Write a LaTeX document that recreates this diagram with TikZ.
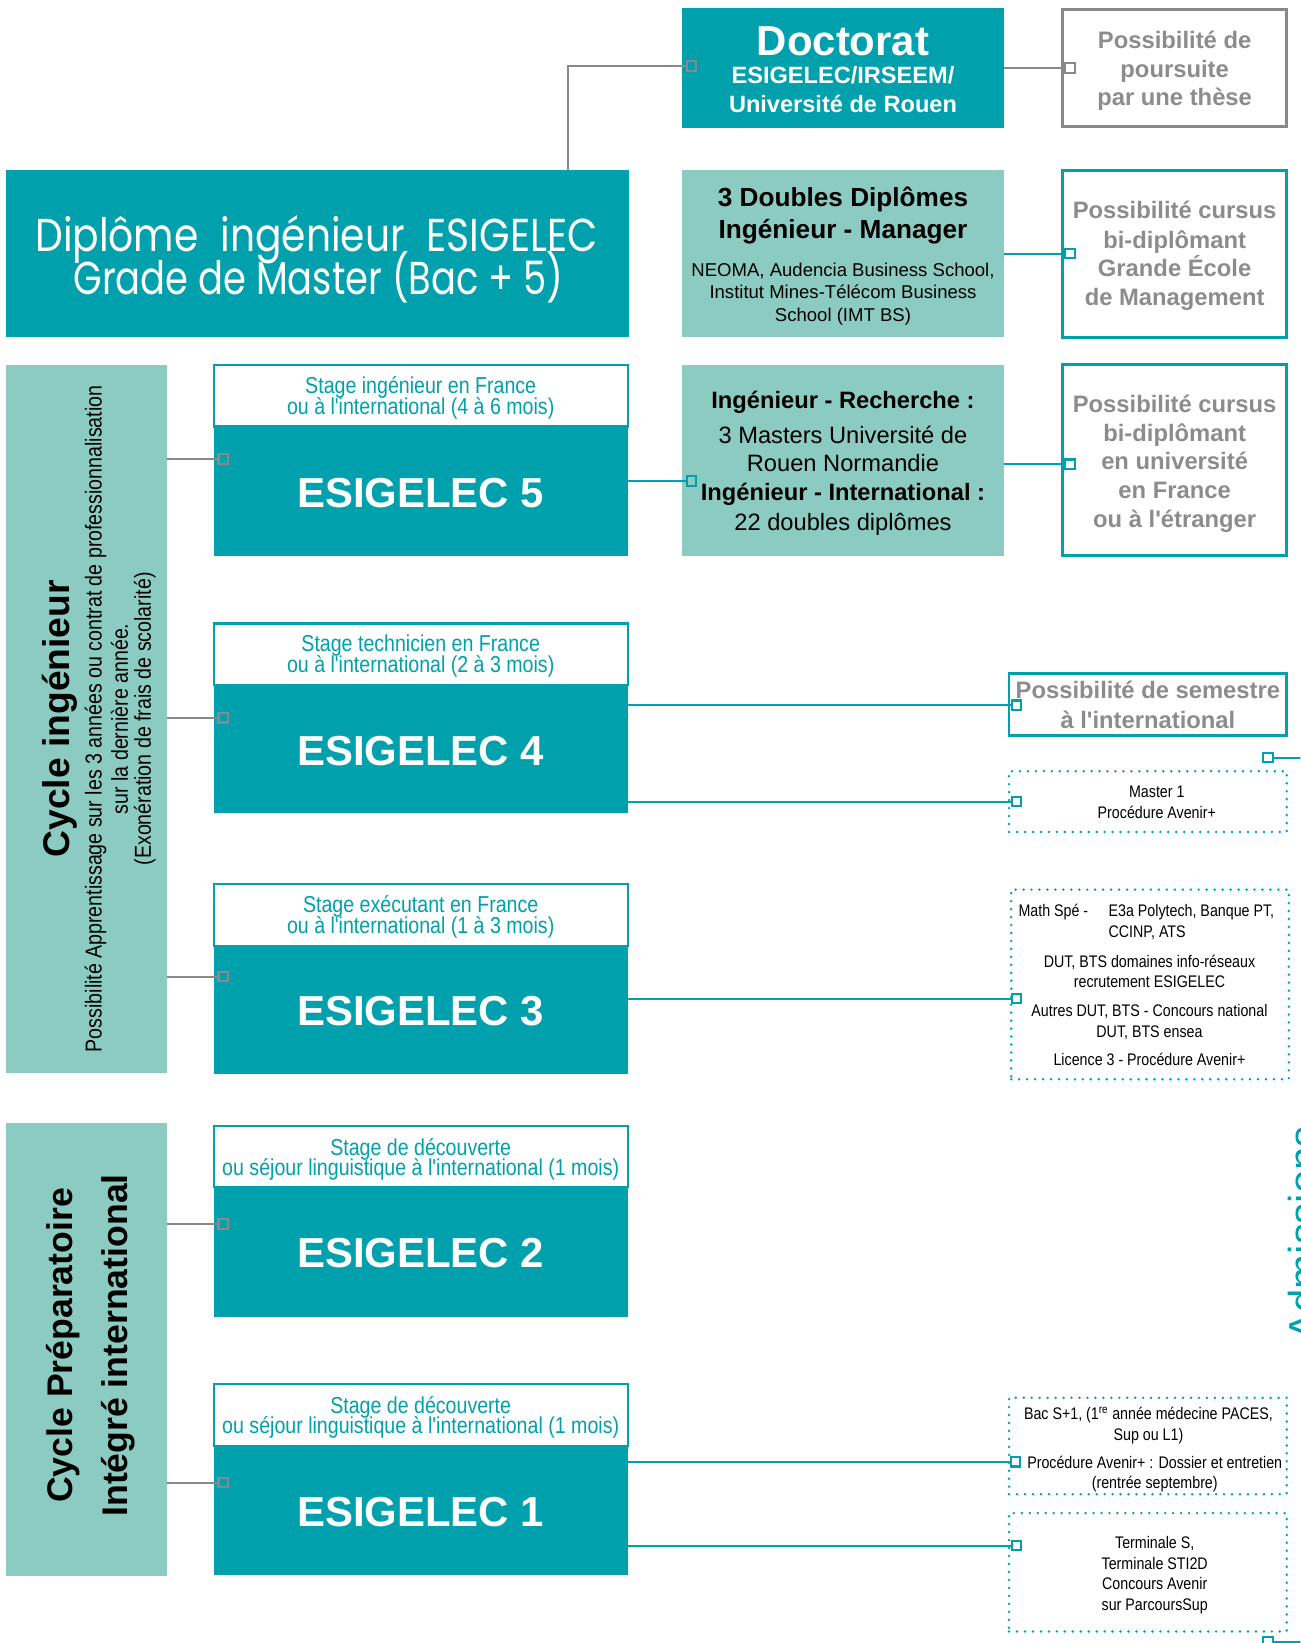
\documentclass[tikz,border=0pt]{standalone}
\usepackage{fontspec}
\setmainfont{Liberation Sans}[Ligatures=TeXOff]
\newfontfamily\nar{Liberation Sans}[FakeStretch=0.85,Ligatures=TeXOff]
\newfontfamily\deco{Poppins}[FakeStretch=0.85]
\newfontfamily\decob{Poppins}[FakeStretch=0.8]
\usetikzlibrary{fit}
\definecolor{teal1}{RGB}{0,161,172}
\definecolor{lteal}{RGB}{140,203,193}
\definecolor{gry}{RGB}{137,137,137}
\definecolor{gtxt}{RGB}{140,140,140}
\newcommand\fs[1]{\fontsize{#1}{#1}\selectfont}
\begin{document}
\begin{tikzpicture}[x=1pt,y=-1pt,
 tbox/.style={fill=teal1, draw=none, inner sep=0pt, outer sep=0pt},
 lbox/.style={fill=lteal, draw=none, inner sep=0pt, outer sep=0pt},
 obox/.style={draw=teal1, line width=2.5pt, fill=white, inner sep=0pt, outer sep=0pt},
 gbox/.style={draw=gry, line width=2.5pt, fill=white, inner sep=0pt, outer sep=0pt},
 sbox/.style={draw=teal1, line width=2pt, fill=white, inner sep=0pt, outer sep=0pt},
 dbox/.style={draw=teal1, line width=2.6pt, dash pattern=on 0pt off 7.6pt, line cap=round, inner sep=0pt, outer sep=0pt},
 sqg/.style={draw=gry, line width=2pt, minimum size=9pt, inner sep=0pt, outer sep=0pt},
 sqt/.style={draw=teal1, line width=2pt, minimum size=9pt, inner sep=0pt, outer sep=0pt},
 gcon/.style={draw=gry, line width=2pt},
 tcon/.style={draw=teal1, line width=2pt},
 txt/.style={anchor=base, inner sep=0pt, outer sep=0pt},
 wt/.style={txt, text=white, font=\bfseries\fs{40}},
 gt/.style={txt, text=gtxt, font=\bfseries\fs{22.7}},
 stt/.style={txt, text=teal1, font=\nar\fs{22}},
 bt/.style={txt, text=black, font=\bfseries\fs{22.6}},
 rt/.style={txt, text=black, font=\fs{22.6}},
 adt/.style={txt, text=black, font=\nar\fs{16}},
]
\useasboundingbox (0,0) rectangle (1241,1568);
\begin{scope}
\clip (0,0) rectangle (1241,1568);
% ---------- boxes ----------
\node[tbox, fit={(6,162)(600,322)}] (dip) {};
\node[tbox, fit={(651,8)(958,122)}] (doc) {};
\node[gbox, fit={(1014,9)(1228,121)}] (pth) {};
\node[lbox, fit={(651,162)(958,322)}] (dd) {};
\node[obox, fit={(1014,163)(1228,322)}] (gem) {};
\node[lbox, fit={(6,348)(159,1024)}] (cyc) {};
\node[sbox, fit={(204,348)(599,407)}] (st5) {};
\node[tbox, fit={(204,407)(599,531)}] (e5) {};
\node[lbox, fit={(651,348)(958,531)}] (ir) {};
\node[obox, fit={(1014,348)(1228,530)}] (univ) {};
\node[sbox, fit={(204,595)(599,654)}] (st4) {};
\node[tbox, fit={(204,654)(599,776)}] (e4) {};
\node[obox, fit={(963,643)(1228,702)}] (sem) {};
\node[dbox, fit={(963,736)(1228,794)}] (mone) {};
\node[sbox, fit={(204,844)(599,903)}] (st3) {};
\node[tbox, fit={(204,903)(599,1025)}] (e3) {};
\node[dbox, fit={(965,849)(1230,1030)}] (adtrois) {};
\node[lbox, fit={(6,1072)(159,1504)}] (prep) {};
\node[sbox, fit={(204,1075)(599,1133)}] (st2) {};
\node[tbox, fit={(204,1133)(599,1257)}] (e2) {};
\node[sbox, fit={(204,1321)(599,1380)}] (st1) {};
\node[tbox, fit={(204,1380)(599,1503)}] (e1) {};
\node[dbox, fit={(963,1334)(1228,1426)}] (adbac) {};
\node[dbox, fit={(963,1444)(1228,1557)}] (adterm) {};
% ---------- connector squares ----------
\node[sqg] (sqdoc) at (660,63) {};
\node[sqg] (sqpth) at (1021,65) {};
\node[sqt] (sqgem) at (1021,242) {};
\node[sqg] (sqe5) at (213,438) {};
\node[sqt] (sqir) at (660,459) {};
\node[sqt] (squniv) at (1021,443) {};
\node[sqg] (sqe4) at (213,685) {};
\node[sqt] (sqsem) at (970,673) {};
\node[sqt] (sqmone) at (970,765) {};
\node[sqt] (sqadmt) at (1210,723) {};
\node[sqg] (sqe3) at (213,932) {};
\node[sqt] (sqadtrois) at (970,953) {};
\node[sqg] (sqe2) at (213,1168) {};
\node[sqg] (sqe1) at (213,1415) {};
\node[sqt] (sqadbac) at (969,1395) {};
\node[sqt] (sqadterm) at (970,1475) {};
\node[sqt] (sqadmb) at (1210,1567) {};
\coordinate (admt) at (1250,723);
\coordinate (admb) at (1250,1567);
% ---------- connectors ----------
\draw[gcon] ([xshift=239pt]dip.north) |- (sqdoc.west);
\draw[gcon] (doc.east |- sqpth) -- (sqpth.west);
\draw[tcon] (dd.east |- sqgem) -- (sqgem.west);
\draw[gcon] (cyc.east |- sqe5) -- (sqe5.west);
\draw[tcon] (e5.east |- sqir) -- (sqir.west);
\draw[tcon] (ir.east |- squniv) -- (squniv.west);
\draw[gcon] (cyc.east |- sqe4) -- (sqe4.west);
\draw[tcon] (e4.east |- sqsem) -- (sqsem.west);
\draw[tcon] (e4.east |- sqmone) -- (sqmone.west);
\draw[tcon] (sqadmt.east) -- (admt);
\draw[gcon] (cyc.east |- sqe3) -- (sqe3.west);
\draw[tcon] (e3.east |- sqadtrois) -- (sqadtrois.west);
\draw[gcon] (prep.east |- sqe2) -- (sqe2.west);
\draw[gcon] (prep.east |- sqe1) -- (sqe1.west);
\draw[tcon] (e1.east |- sqadbac) -- (sqadbac.west);
\draw[tcon] (e1.east |- sqadterm) -- (sqadterm.west);
\draw[tcon] (sqadmb.east) -- (admb);
% ---------- texts ----------
\node[txt, text=white, font=\deco\fs{44}] (dipa) at (302,240) {Diplôme\hspace{21pt}ingénieur\hspace{21pt}ESIGELEC};
\node[txt, text=white, font=\decob\fs{44}] (dipb) at (304,281) {Grade de Master (Bac + 5)};
\node[wt] (doca) at (804.5,53) {Doctorat};
\node[wt, font=\bfseries\fs{22.5}] (docb) at (804.5,80) {ESIGELEC/IRSEEM/};
\node[wt, font=\bfseries\fs{22.5}] (docc) at (804.5,107) {Université de Rouen};
\node[gt] (ptha) at (1121,46) {Possibilité de};
\node[gt] (pthb) at (1121,74) {poursuite};
\node[gt] (pthc) at (1121,101) {par une thèse};
\node[bt, font=\bfseries\fs{25}] (dda) at (804.5,197) {3 Doubles Diplômes};
\node[bt, font=\bfseries\fs{25}] (ddb) at (804.5,228) {Ingénieur - Manager};
\node[rt, font=\fs{17.7}] (ddc) at (804.5,264) {NEOMA, Audencia Business School,};
\node[rt, font=\fs{17.7}] (ddd) at (804.5,285) {Institut Mines-Télécom Business};
\node[rt, font=\fs{17.7}] (dde) at (804.5,307) {School (IMT BS)};
\node[gt] (gema) at (1121,209) {Possibilité cursus};
\node[gt] (gemb) at (1121,237) {bi-diplômant};
\node[gt] (gemc) at (1121,264) {Grande École};
\node[gt] (gemd) at (1121,292) {de Management};
\node[bt] (ira) at (804.5,390) {Ingénieur - Recherche :};
\node[rt] (irb) at (804.5,423) {3 Masters Université de};
\node[rt] (irc) at (804.5,450) {Rouen Normandie};
\node[bt] (ird) at (804.5,478) {Ingénieur - International :};
\node[rt] (ire) at (804.5,506) {22 doubles diplômes};
\node[gt] (univa) at (1121,394) {Possibilité cursus};
\node[gt] (univb) at (1121,421) {bi-diplômant};
\node[gt] (univc) at (1121,448) {en université};
\node[gt] (univd) at (1121,476) {en France};
\node[gt] (unive) at (1121,503) {ou à l'étranger};
\node[stt] (st5a) at (401.5,376) {Stage ingénieur en France};
\node[stt] (st5b) at (401.5,396) {ou à l'international (4 à 6 mois)};
\node[wt] (e5t) at (401.5,484) {ESIGELEC 5};
\node[stt] (st4a) at (401.5,622) {Stage technicien en France};
\node[stt] (st4b) at (401.5,642) {ou à l'international (2 à 3 mois)};
\node[wt] (e4t) at (401.5,731) {ESIGELEC 4};
\node[gt] (sema) at (1095.5,667) {Possibilité de semestre};
\node[gt] (semb) at (1095.5,695) {à l'international};
\node[adt] (monea) at (1104,761) {Master 1};
\node[adt] (moneb) at (1104,781) {Procédure Avenir+};
\node[stt] (st3a) at (401.5,871) {Stage exécutant en France};
\node[stt] (st3b) at (401.5,891) {ou à l'international (1 à 3 mois)};
\node[wt] (e3t) at (401.5,979) {ESIGELEC 3};
\node[adt, anchor=base west] (ada) at (972,875) {Math Spé -};
\node[adt, anchor=base west] (adb) at (1058,875) {E3a Polytech, Banque PT,};
\node[adt, anchor=base west] (adc) at (1058,895) {CCINP, ATS};
\node[adt] (add) at (1097,923) {DUT, BTS domaines info-réseaux};
\node[adt] (ade) at (1097,942) {recrutement ESIGELEC};
\node[adt] (adf) at (1097,970) {Autres DUT, BTS - Concours national};
\node[adt] (adg) at (1097,990) {DUT, BTS ensea};
\node[adt] (adh) at (1097,1017) {Licence 3 - Procédure Avenir+};
\node[stt] (st2a) at (401.5,1103) {Stage de découverte};
\node[stt] (st2b) at (401.5,1122) {ou séjour linguistique à l'international (1 mois)};
\node[wt] (e2t) at (401.5,1210) {ESIGELEC 2};
\node[stt] (st1a) at (401.5,1349) {Stage de découverte};
\node[stt] (st1b) at (401.5,1368) {ou séjour linguistique à l'international (1 mois)};
\node[wt] (e1t) at (401.5,1457) {ESIGELEC 1};
\node[adt] (baca) at (1096,1355) {Bac S+1, (1\textsuperscript{re} année médecine PACES,};
\node[adt] (bacb) at (1096,1375) {Sup ou L1)};
\node[adt] (bacc) at (1102,1401) {Procédure Avenir+ : Dossier et entretien};
\node[adt] (bacd) at (1102,1421) {(rentrée septembre)};
\node[adt] (terma) at (1102,1478) {Terminale S,};
\node[adt] (termb) at (1102,1498) {Terminale STI2D};
\node[adt] (termc) at (1102,1517) {Concours Avenir};
\node[adt] (termd) at (1102,1537) {sur ParcoursSup};
% rotated texts
\node[txt, rotate=90, font=\bfseries\fs{35.5}] (cyca) at (66,686) {Cycle ingénieur};
\node[txt, rotate=90, font=\nar\fs{22}] (cycb) at (97,686) {Possibilité Apprentissage sur les 3 années ou contrat de professionnalisation};
\node[txt, rotate=90, font=\nar\fs{22}] (cycc) at (122,686) {sur la dernière année.};
\node[txt, rotate=90, font=\nar\fs{22}] (cycd) at (144,686) {(Exonération de frais de scolarité)};
\node[txt, rotate=90, font=\bfseries\fs{34}] (prepa) at (69,1284) {Cycle Préparatoire};
\node[txt, rotate=90, font=\bfseries\fs{34}] (prepb) at (122,1284) {Intégré international};
\node[txt, rotate=90, text=teal1, font=\fs{40}] (adm) at (1258,1177) {Admissions};
\end{scope}
\end{tikzpicture}
\end{document}
